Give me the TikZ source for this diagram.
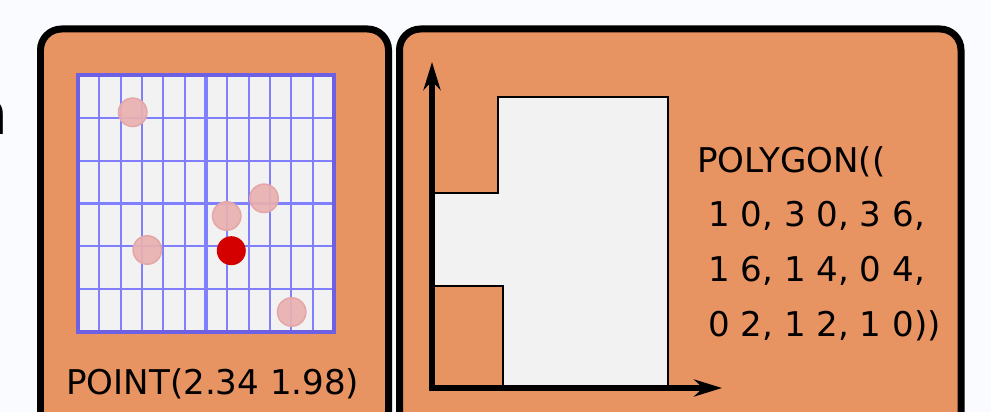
\documentclass[tikz,border=0pt]{standalone}
\usepackage{fontspec}
\setmainfont{DejaVu Sans}
\usepackage{tikz}
\usetikzlibrary{arrows.meta}

\definecolor{bgwhite}{RGB}{250,251,254}
\definecolor{panelorange}{RGB}{232,148,98}
\definecolor{cellgray}{RGB}{242,242,242}
\definecolor{gridblue}{RGB}{128,128,255}
\definecolor{gridedge}{RGB}{110,96,226}
\definecolor{dotpink}{RGB}{233,176,176}
\definecolor{dotrim}{RGB}{228,166,166}
\definecolor{dotred}{RGB}{212,0,0}

\begin{document}
\begin{tikzpicture}[x=0.02cm, y=-0.02cm,
    panel/.style={fill=panelorange, draw=black, line width=0.14cm, rounded corners=0.42cm},
    gridline/.style={draw=gridblue, line width=0.04cm},
    label/.style={font=\fontsize{19.4}{31.1}\selectfont, inner sep=0pt}]
    % frame of the picture
    \fill[bgwhite] (0,0) rectangle (991,412);
    \useasboundingbox (0,0) rectangle (991,412);
    \clip (0,0) rectangle (991,412);
    \node[anchor=base east, inner sep=0pt, font=\fontsize{34}{36}\selectfont] (cutword) at (9,134) {n};

    % left panel - point on a grid
    \draw[panel] (40.5,29) rectangle (388.5,470);
    \fill[cellgray] (78,75) rectangle (334,332);
    \foreach \i in {1,...,11}
        \draw[gridline] ({78+\i*256/12},75) -- ++(0,257);
    \foreach \j in {1,2,4,5}
        \draw[gridline] (78,{75+\j*257/6}) -- ++(256,0);
    \draw[gridline, line width=0.065cm] (206,75) -- ++(0,257);
    \draw[gridline, line width=0.065cm] (78,203.5) -- ++(256,0);
    \draw[draw=gridedge, line width=0.07cm] (78,75) rectangle (334,332);
    \foreach \px/\py in {132.7/112.3, 264/198.3, 226.7/216, 147.3/250, 291.7/312}
        \draw[fill=dotpink, draw=dotrim, fill opacity=0.92, line width=0.03cm] (\px,\py) circle (14.2);
    \fill[dotred] (231.3,250.7) circle (14.5);
    \node[label, anchor=base west] (pointtext) at (66,394) {POINT(2.34 1.98)};

    % right panel - polygon on axes
    \draw[panel] (399.5,29) rectangle (961,470);
    \draw[fill=cellgray, line width=0.04cm] (503,388) -- (668,388) -- (668,97) -- (498,97)
        -- (498,193) -- (432,193) -- (432,286) -- (503,286) -- cycle;
    \coordinate (origin) at (432,388);
    \coordinate (ytip) at (432,62);
    \coordinate (xtip) at (722,388);
    \draw[line width=0.12cm, {Stealth[length=0.56cm, width=0.34cm]}-{Stealth[length=0.56cm, width=0.34cm]}]
        (ytip) -- (origin) -- (xtip);
    \node[label, anchor=base west, align=left] (polytext) at (697,336)
        {POLYGON((\\\ 1 0, 3 0, 3 6,\\\ 1 6, 1 4, 0 4,\\\ 0 2, 1 2, 1 0))};
\end{tikzpicture}
\end{document}
